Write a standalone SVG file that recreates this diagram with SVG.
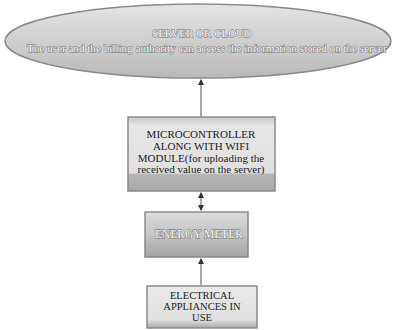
<svg xmlns="http://www.w3.org/2000/svg" width="393" height="330" viewBox="0 0 393 330">
<defs>
<linearGradient id="gEll" x1="0" y1="0" x2="0" y2="1">
<stop offset="0" stop-color="#e4e4e4"/>
<stop offset="0.5" stop-color="#cfcfcf"/>
<stop offset="1" stop-color="#b8b8b8"/>
</linearGradient>
<linearGradient id="gMicro" x1="0" y1="0" x2="0" y2="1">
<stop offset="0" stop-color="#c8c8c8"/>
<stop offset="0.12" stop-color="#e6e6e6"/>
<stop offset="0.75" stop-color="#e0e0e0"/>
<stop offset="0.78" stop-color="#b5b5b5"/>
<stop offset="1" stop-color="#a8a8a8"/>
</linearGradient>
<linearGradient id="gMeter" x1="0" y1="0" x2="0" y2="1">
<stop offset="0" stop-color="#dcdcdc"/>
<stop offset="0.5" stop-color="#c4c4c4"/>
<stop offset="1" stop-color="#a4a4a4"/>
</linearGradient>
<linearGradient id="gApp" x1="0" y1="0" x2="0" y2="1">
<stop offset="0" stop-color="#e8e8e8"/>
<stop offset="0.8" stop-color="#e0e0e0"/>
<stop offset="1" stop-color="#a8a8a8"/>
</linearGradient>
<marker id="ah" viewBox="0 0 6 6" refX="5" refY="3" markerWidth="5" markerHeight="5" orient="auto-start-reverse">
<path d="M0,0 L6,3 L0,6 z" fill="#333"/>
</marker>
</defs>
<style>
.box{stroke:#8a8a8a;stroke-width:1.5}
text{font-family:"Liberation Serif","Times New Roman","DejaVu Serif",serif;text-anchor:middle}
.t{font-size:11px;fill:#222}
.ts{font-size:10.5px;fill:#222}
.tw{font-size:11px;fill:#ffffff;stroke:#6a6a6a;stroke-width:0.9;stroke-linejoin:round;paint-order:stroke fill}
.c{stroke:#777;stroke-width:1.3;fill:none}
</style>
<rect width="393" height="330" fill="#ffffff"/>
<g id="connectors">
<line class="c" x1="201" y1="117" x2="201" y2="80" marker-end="url(#ah)"/>
<line class="c" x1="201" y1="193" x2="201" y2="210" marker-start="url(#ah)" marker-end="url(#ah)"/>
<line class="c" x1="201" y1="285" x2="201" y2="259" marker-end="url(#ah)"/>
</g>
<g id="server">
<ellipse cx="198" cy="41" rx="193" ry="37" fill="url(#gEll)" class="box"/>
<text class="tw" x="202" y="37">SERVER OR CLOUD</text>
<text class="tw" x="207" y="52" textLength="360" lengthAdjust="spacingAndGlyphs">The user and the billing authority can access the information stored on the server</text>
</g>
<g id="microcontroller">
<rect x="128" y="117" width="147" height="74" fill="url(#gMicro)" class="box"/>
<text class="t" x="201" y="138">MICROCONTROLLER</text>
<text class="t" x="201" y="150">ALONG WITH WIFI</text>
<text class="t" x="201" y="161.5">MODULE(for uploading the</text>
<text class="t" x="201" y="173">received value on the server)</text>
</g>
<g id="energy-meter">
<rect x="145" y="212" width="103" height="45" fill="url(#gMeter)" class="box"/>
<text class="tw" x="199" y="238" style="font-size:11.5px">ENERGY METER</text>
</g>
<g id="appliances">
<rect x="147" y="286" width="110" height="42" fill="url(#gApp)" class="box"/>
<text class="ts" x="202" y="299">ELECTRICAL</text>
<text class="ts" x="202" y="310">APPLIANCES IN</text>
<text class="ts" x="202" y="321">USE</text>
</g>
</svg>
